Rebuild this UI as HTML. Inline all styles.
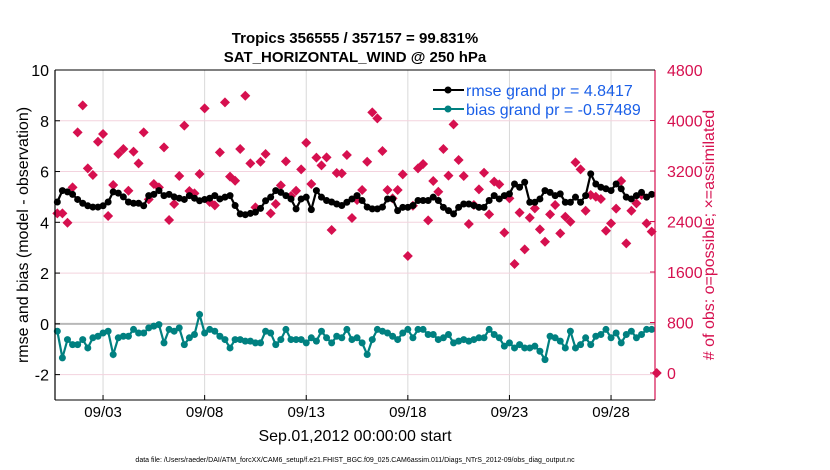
<!DOCTYPE html>
<html><head><meta charset="utf-8"><style>
body{margin:0;background:#fff;}
svg{display:block;font-family:"Liberation Sans",sans-serif;}
</style></head><body>
<svg id="chart" width="830" height="470" viewBox="0 0 830 470">
<text x="355" y="43" text-anchor="middle" font-size="15" font-weight="bold">Tropics 356555 / 357157 = 99.831%</text>
<text x="355" y="62" text-anchor="middle" font-size="15" font-weight="bold">SAT_HORIZONTAL_WIND @ 250 hPa</text>
<g id="grid"></g>
<g id="series"></g>
<g id="axes"></g>
<text transform="translate(28,235) rotate(-90)" text-anchor="middle" font-size="16">rmse and bias (model - observation)</text>
<text transform="translate(714,235) rotate(-90)" text-anchor="middle" font-size="16" fill="#d6104f"># of obs: o=possible; ×=assimilated</text>
<text x="355" y="441" text-anchor="middle" font-size="16">Sep.01,2012 00:00:00 start</text>
<text x="355" y="462" text-anchor="middle" font-size="7">data file: /Users/raeder/DAI/ATM_forcXX/CAM6_setup/f.e21.FHIST_BGC.f09_025.CAM6assim.011/Diags_NTrS_2012-09/obs_diag_output.nc</text>
<g>
<line x1="433" y1="90" x2="464" y2="90" stroke="#000" stroke-width="2"/>
<circle cx="448" cy="90" r="3.5" fill="#000"/>
<text x="466" y="96" font-size="16" fill="#1a5fe8">rmse grand pr = 4.8417</text>
<line x1="433" y1="109" x2="464" y2="109" stroke="#008080" stroke-width="2"/>
<circle cx="448" cy="109" r="3.5" fill="#008080"/>
<text x="466" y="115" font-size="16" fill="#1a5fe8">bias grand pr = -0.57489</text>
</g>
</svg>
<script>
const xTickLabels = ["09/03","09/08","09/13","09/18","09/23","09/28"];
const xTickDays = [2,7,12,17,22,27];
const leftTicks = [-2,0,2,4,6,8,10];
const rightTicks = [0,800,1600,2400,3200,4000,4800];
const startDay = -0.25;
const stepDay = 0.25;
const rmse = [4.8,5.25,5.2,5.1,4.9,4.75,4.65,4.6,4.6,4.65,4.8,5.2,5.15,5.0,4.8,4.75,4.75,4.65,5.05,5.1,5.25,5.05,5.1,5.0,4.95,4.9,5.05,4.95,4.85,4.9,4.95,5.05,4.92,4.99,5.05,4.66,4.33,4.3,4.35,4.4,4.55,4.85,4.99,5.25,5.18,5.05,4.92,4.53,4.92,4.99,4.5,5.25,4.99,4.86,4.8,4.72,4.66,4.79,4.92,5.05,
4.86,4.6,4.53,4.53,4.6,4.92,4.92,4.46,4.59,4.59,4.66,4.86,4.86,4.86,4.99,4.86,4.59,4.46,4.33,4.59,4.72,4.72,4.66,4.59,4.59,4.86,5.05,4.92,5.05,5.12,5.51,5.38,5.58,4.79,4.79,4.92,5.25,5.18,5.05,5.12,4.79,4.79,4.99,4.79,5.05,5.91,5.51,5.38,5.32,5.25,5.51,5.32,4.99,4.92,5.05,5.18,4.99,5.1];
const bias = [-0.29,-1.34,-0.62,-0.82,-0.82,-0.62,-0.95,-0.55,-0.49,-0.36,-0.29,-1.21,-0.55,-0.49,-0.49,-0.22,-0.36,-0.36,-0.16,-0.09,-0.03,-0.75,-0.22,-0.29,-0.16,-0.82,-0.55,-0.42,0.37,-0.36,-0.22,-0.29,-0.49,-0.62,-0.95,-0.62,-0.62,-0.68,-0.68,-0.75,-0.75,-0.29,-0.36,-0.82,-0.62,-0.22,-0.62,-0.62,-0.62,-0.75,-0.55,-0.68,-0.29,-0.55,-0.75,-0.49,-0.55,-0.22,-0.62,-0.55,
-0.75,-1.21,-0.62,-0.22,-0.29,-0.36,-0.49,-0.62,-0.36,-0.22,-0.55,-0.22,-0.22,-0.42,-0.42,-0.62,-0.55,-0.42,-0.75,-0.68,-0.62,-0.68,-0.62,-0.55,-0.55,-0.22,-0.42,-0.55,-0.88,-0.75,-0.95,-0.82,-0.95,-0.95,-0.88,-1.08,-1.41,-0.49,-0.55,-0.68,-0.95,-0.29,-0.95,-0.82,-0.55,-0.82,-0.49,-0.42,-0.22,-0.55,-0.36,-0.75,-0.42,-0.29,-0.55,-0.42,-0.22,-0.22];
const obsCount = [2529,2529,2381,2941,3812,4240,3242,3136,3664,3786,2487,2978,3469,3548,2888,3506,3321,3812,2751,2994,2941,3574,2423,2677,3120,3918,2883,2846,3152,4192,2709,2656,3495,4287,3110,3046,3548,4393,3321,2624,3347,3469,2529,2677,2973,3353,2804,2888,3226,3648,2994,3411,3289,3416,2265,3168,3163,3453,2455,2740,2899,
3347,4129,4034,3516,2899,2767,2899,3147,1853,2650,3242,3310,2418,3041,2872,3548,3126,3939,3374,3120,2360,2661,2909,3173,2513,3031,2988,2223,2767,1726,2540,1959,2460,2608,2276,2080,2513,2661,2212,2476,2397,3337,3226,2571,2819,2793,2756,2254,2371,2603,3041,2054,2571,2687,2819,2371,2239,0];

const NS="http://www.w3.org/2000/svg";
const PL=55,PR=655,PT=70,PB=400;
const xOf = d => 62.4 + d*20.32;
const yL = v => PT + (10 - v)*(PB-PT)/13;
const yR = c => 373 - c*(303/4800);
function mk(tag, attrs, parent){const e=document.createElementNS(NS,tag);for(const k in attrs)e.setAttribute(k,attrs[k]);parent.appendChild(e);return e;}
const grid=document.getElementById('grid'), ser=document.getElementById('series'), axes=document.getElementById('axes');

xTickDays.forEach((d,i)=>{
  const x=xOf(d);
  const g=mk('line',{x1:x,x2:x,y1:PT,y2:PB,stroke:'#d8d8d8','stroke-width':1},grid);
  
  
  const t=mk('text',{x:x,y:417,'text-anchor':'middle','font-size':15},axes);
  t.textContent=xTickLabels[i];
  
  
});
leftTicks.forEach(v=>{
  const y=yL(v);
  if(v!==0&&v!==10){const g=mk('line',{x1:PL,x2:PR,y1:y,y2:y,stroke:'#f3d3de','stroke-width':1},grid);
  
  }
  mk('line',{x1:PL,x2:PL+5,y1:y,y2:y,stroke:'#000'},axes);
  const t=mk('text',{x:PL-6,y:y+6,'text-anchor':'end','font-size':16},axes);
  t.textContent=v;
  
  
});
const z=mk('line',{x1:PL,x2:PR,y1:yL(0),y2:yL(0),stroke:'#b8b8b8','stroke-width':2},grid);


rightTicks.forEach(c=>{
  const y=yR(c);
  mk('line',{x1:PR-5,x2:PR,y1:y,y2:y,stroke:'#d6104f'},axes);
  const t=mk('text',{x:PR+12,y:y+6,'font-size':16,fill:'#d6104f'},axes);
  t.textContent=c;
  
  
});
const la=mk('line',{x1:PL,x2:PL,y1:PT,y2:PB,stroke:'#000','stroke-width':1.2},axes);


const ra=mk('line',{x1:PR,x2:PR,y1:PT,y2:PB,stroke:'#d6104f','stroke-width':1.2},axes);


mk('line',{x1:PL,x2:PR,y1:PB,y2:PB,stroke:'#000','stroke-width':1},axes);
mk('line',{x1:PL,x2:PR,y1:PT,y2:PT,stroke:'#000','stroke-width':1},axes);
xTickDays.forEach(d=>{mk('line',{x1:xOf(d),x2:xOf(d),y1:PB,y2:PB-5,stroke:'#000'},axes);});

obsCount.forEach((c,i)=>{
  const x=xOf(startDay+i*stepDay), y=yR(c);
  const p=mk('polygon',{points:`${x},${y-5} ${x+5},${y} ${x},${y+5} ${x-5},${y}`,fill:'#d6104f'},ser);
  
  
});
function line(vals,color,name){
  const pts=vals.map((v,i)=>`${xOf(startDay+i*stepDay)},${yL(v)}`).join(' ');
  const pl=mk('polyline',{points:pts,fill:'none',stroke:color,'stroke-width':2.2},ser);
  
  
  vals.forEach((v,i)=>{
    const c=mk('circle',{cx:xOf(startDay+i*stepDay),cy:yL(v),r:3.5,fill:color},ser);
    
    
  });
}
line(rmse,'#000','rmse');
line(bias,'#008080','bias');
</script>
</body></html>
